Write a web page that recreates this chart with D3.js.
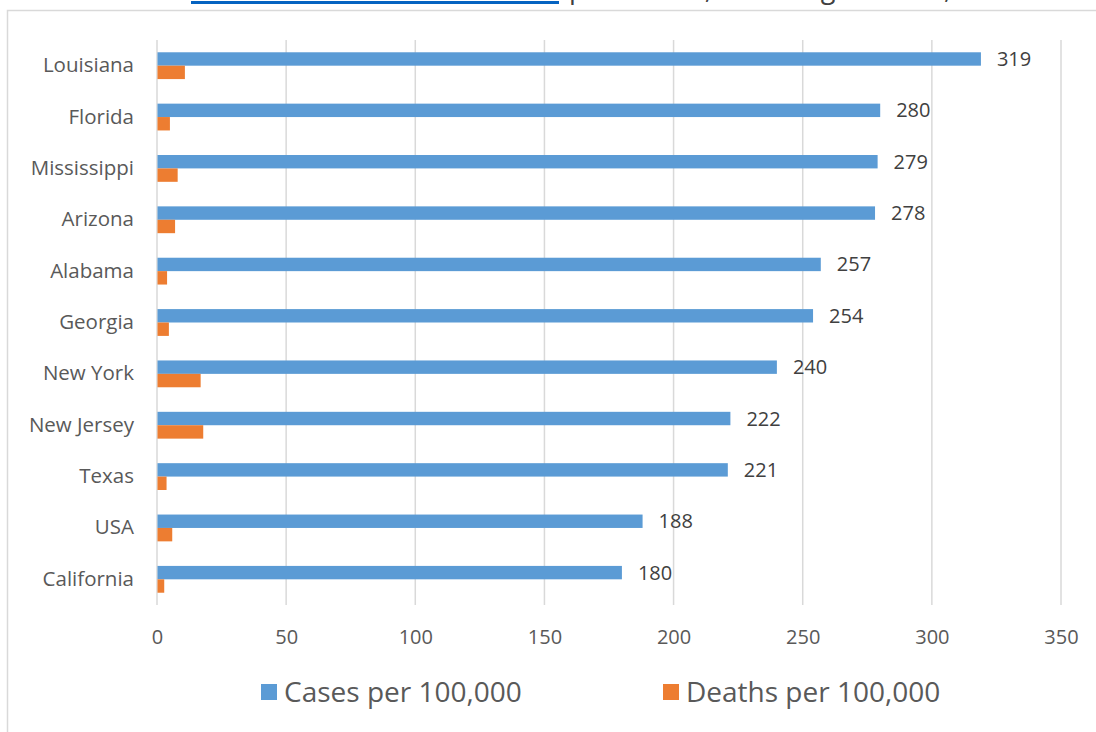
<!DOCTYPE html>
<html>
<head>
<meta charset="utf-8">
<script src="https://cdn.jsdelivr.net/npm/d3@7"></script>
<style>
  html, body { margin: 0; padding: 0; background: #ffffff; }
  svg { display: block; }
  text { font-family: "Open Sans", "DejaVu Sans", sans-serif; }
</style>
</head>
<body>
<svg id="chart" width="1096" height="732"></svg>
<script>
// Cases and deaths per 100,000 residents, by state
const categories = ["Louisiana", "Florida", "Mississippi", "Arizona", "Alabama", "Georgia",
                    "New York", "New Jersey", "Texas", "USA", "California"];
const casesPer100k = [319, 280, 279, 278, 257, 254, 240, 222, 221, 188, 180];
const deathsPer100k = [10.8, 5.0, 8.0, 7.0, 3.9, 4.6, 16.9, 17.9, 3.7, 5.9, 2.8];
const xTicks = [0, 50, 100, 150, 200, 250, 300, 350];
const seriesNames = ["Cases per 100,000", "Deaths per 100,000"];
const seriesColors = ["#5b9bd5", "#ed7d31"];

const svg = d3.select("#chart");

// Heading line running above the chart frame
const heading = svg.append("text")
  .attr("y", -2)
  .attr("font-size", 27)
  .attr("fill", "#404040");
heading.append("tspan")
  .attr("x", 191)
  .attr("fill", "#0563c1")
  .attr("textLength", 360)
  .attr("lengthAdjust", "spacing")
  .text("Coronavirus cases and deaths");
heading.append("tspan")
  .attr("x", 569)
  .attr("textLength", 382)
  .attr("lengthAdjust", "spacing")
  .text("per million, as of August 2020,");
svg.append("rect")
  .attr("x", 191).attr("y", 1)
  .attr("width", 368).attr("height", 3)
  .attr("fill", "#0563c1");

// Chart frame
svg.append("rect")
  .attr("x", 7.5).attr("y", 10.5)
  .attr("width", 1200).attr("height", 800)
  .attr("fill", "#ffffff")
  .attr("stroke", "#d9d9d9")
  .attr("stroke-width", 1.5);

const plotTop = 40, plotBottom = 605;

const x = d3.scaleLinear().domain([0, 350]).range([157, 1061]);
const y = d3.scaleBand().domain(categories).range([plotTop, plotBottom])
  .paddingInner(0.478).paddingOuter(0.239);
const ySub = d3.scaleBand().domain([0, 1]).range([0, y.bandwidth()]);

// Vertical gridlines
svg.append("g")
  .selectAll("line")
  .data(xTicks)
  .join("line")
  .attr("x1", d => x(d)).attr("x2", d => x(d))
  .attr("y1", plotTop).attr("y2", plotBottom)
  .attr("stroke", "#d9d9d9")
  .attr("stroke-width", 1.5);

// Bars
const rows = categories.map((c, i) => ({ c, vals: [casesPer100k[i], deathsPer100k[i]] }));
const groups = svg.append("g")
  .selectAll("g")
  .data(rows)
  .join("g")
  .attr("transform", d => `translate(0,${y(d.c)})`);

groups.selectAll("rect")
  .data(d => d.vals.map((v, k) => ({ v, k })))
  .join("rect")
  .attr("x", x(0) + 0.5)
  .attr("y", d => ySub(d.k))
  .attr("width", d => x(d.v) - x(0) - 0.5)
  .attr("height", ySub.bandwidth())
  .attr("fill", d => seriesColors[d.k]);

// Value labels on the cases bars
groups.append("text")
  .attr("x", d => x(d.vals[0]) + 16)
  .attr("y", ySub(0) + ySub.bandwidth() / 2 + 7)
  .attr("font-size", 20)
  .attr("fill", "#404040")
  .text(d => d.vals[0]);

// Category labels
svg.append("g")
  .selectAll("text")
  .data(categories)
  .join("text")
  .attr("x", 134)
  .attr("y", d => y(d) + y.bandwidth() / 2 + 6.5)
  .attr("text-anchor", "end")
  .attr("font-size", 20.5)
  .attr("fill", "#595959")
  .text(d => d);

// X axis tick labels
const xAxis = d3.axisBottom(x).tickValues(xTicks).tickSize(0).tickPadding(0);
const gx = svg.append("g")
  .attr("transform", `translate(0,630)`)
  .call(xAxis);
gx.select(".domain").remove();
gx.selectAll("text")
  .attr("dy", 0)
  .attr("y", 14)
  .attr("font-size", 20)
  .attr("font-family", "\"Open Sans\", sans-serif")
  .attr("fill", "#595959");

// Legend
const legendX = [261, 663];
const legend = svg.append("g")
  .selectAll("g")
  .data(seriesNames)
  .join("g")
  .attr("transform", (d, i) => `translate(${legendX[i]},684)`);
legend.append("rect")
  .attr("width", 16).attr("height", 16)
  .attr("fill", (d, i) => seriesColors[i]);
legend.append("text")
  .attr("x", 23)
  .attr("y", 18)
  .attr("font-size", 28)
  .attr("fill", "#595959")
  .text(d => d);
</script>
</body>
</html>
